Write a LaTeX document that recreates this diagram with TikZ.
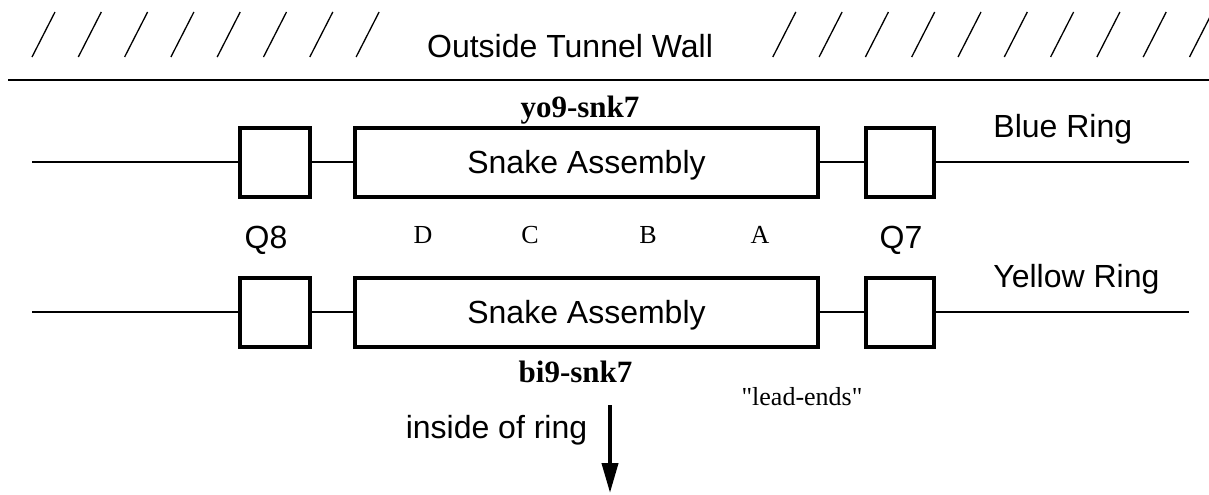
\documentclass[tikz,border=0pt]{standalone}
\usepackage{fontspec}
\setmainfont{Liberation Serif}
\setsansfont{Liberation Sans}
\newfontfamily\rawserif{Liberation Serif}
\usetikzlibrary{arrows.meta, positioning}

\begin{document}
\begin{tikzpicture}[x=0.5pt, y=-0.5pt,
    magnet/.style={draw, line width=2pt, minimum width=35pt, minimum height=34.5pt, inner sep=0pt, outer sep=0pt},
    snake/.style={magnet, minimum width=231.5pt, text height=11.5pt, text depth=0pt, font=\sffamily\fontsize{16}{19}\selectfont},
    sanslabel/.style={font=\sffamily\fontsize{16}{19}\selectfont, inner sep=0pt, anchor=base},
    seriflabel/.style={font=\fontsize{13}{15}\selectfont, inner sep=0pt, anchor=base},
    boldlabel/.style={font=\bfseries\fontsize{15.5}{18}\selectfont, inner sep=0pt, anchor=base},
    ringline/.style={line width=1pt},
    hatch/.style={line width=0.65pt}]
    \useasboundingbox (0,0) rectangle (1209,494);
    % Tunnel wall
    \foreach \k in {0,...,7,16,17,...,25}
        \draw[hatch] ({32+46.3*\k},57) -- ++(23,-45);
    \draw[line width=0.9pt] (8,80) -- (1209,80);
    \node[sanslabel] (wall) at (570,57) {Outside Tunnel Wall};

    % Blue ring
    \coordinate (bl) at (32,162);
    \coordinate (br) at (1189,162);
    \node[magnet] (q8b) at (275,162) {};
    \node[snake] (snkb) at (586.5,162) {Snake Assembly};
    \node[magnet, minimum width=34pt] (q7b) at (899.5,162) {};
    \draw[ringline] (bl) -- (q8b) -- (snkb) -- (q7b) -- (br);
    \node[sanslabel, anchor=base west] (blue) at (993,137) {Blue Ring};
    \node[boldlabel] (yo) at (580,117) {yo9-snk7};

    % Magnet names and leads
    \node[sanslabel] (q8) at (266,248) {Q8};
    \node[sanslabel] (q7) at (901,248) {Q7};
    \foreach \x/\t in {423/D, 530/C, 648/B, 760/A}
        \node[seriflabel] (lead\t) at (\x,243) {\t};

    % Yellow ring
    \coordinate (yl) at (32,312);
    \coordinate (yr) at (1189,312);
    \node[magnet] (q8y) at (275,312) {};
    \node[snake] (snky) at (586.5,312) {Snake Assembly};
    \node[magnet, minimum width=34pt] (q7y) at (899.5,312) {};
    \draw[ringline] (yl) -- (q8y) -- (snky) -- (q7y) -- (yr);
    \node[sanslabel, anchor=base west] (yellow) at (993,287) {Yellow Ring};
    \node[boldlabel] (bi) at (575.5,382) {bi9-snk7};
    \node[seriflabel, font=\rawserif\fontsize{13}{15}\selectfont] (leadends) at (802,405) {"lead-ends"};

    % Direction of ring centre
    \node[sanslabel] (inside) at (496.5,438) {inside of ring};
    \coordinate (up) at (610,405);
    \coordinate (down) at (610,493);
    \draw[line width=2pt, -{Triangle[length=15pt, width=8pt]}] (up) -- (down);
\end{tikzpicture}
\end{document}
